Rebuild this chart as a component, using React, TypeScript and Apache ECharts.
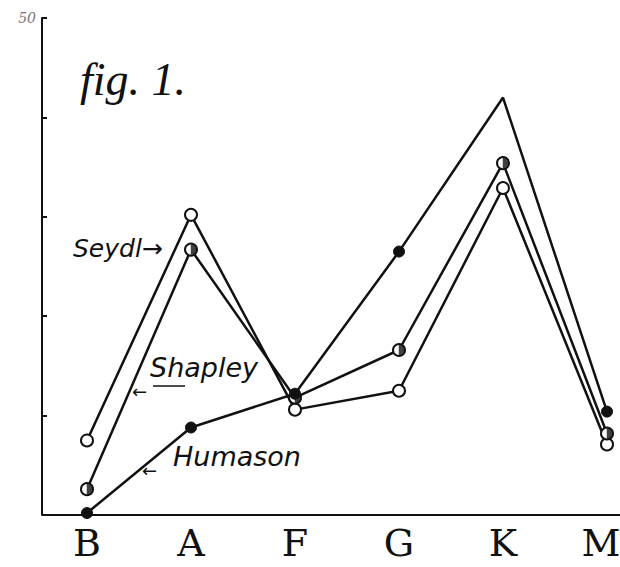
import React, { useEffect, useRef } from "react";
import * as echarts from "echarts";

const categories = ["B", "A", "F", "G", "K", "M"];
const seydl = [7.5, 30.2, 10.6, 12.5, 32.9, 7.1];
const shapley = [2.6, 26.7, 11.8, 16.6, 35.4, 8.2];
const humason = [0.2, 8.8, 12.2, 26.5, 42.0, 10.4];
const yTicks = [0, 10, 20, 30, 40, 50];
const shownYLabel = 50;

export default function App() {
  const ref = useRef<HTMLDivElement>(null);
  useEffect(() => {
    document.body.style.margin = "0";
    if (!ref.current) return;
    const chart = echarts.init(ref.current, null, { renderer: "svg" });
    const hand = "'DejaVu Sans', sans-serif";
    const lastIdx = categories.length - 1;
    chart.setOption({
      animation: false,
      backgroundColor: "#ffffff",
      grid: { left: 87, right: 13, top: 18, bottom: 52, outerBoundsMode: "none", containLabel: false },
      xAxis: {
        type: "category",
        data: categories.map((c, i) =>
          i === lastIdx ? { value: c, textStyle: { padding: [0, 12, 0, 0] } } : c
        ),
        boundaryGap: false,
        axisLine: { show: false },
        axisTick: { show: false },
        axisLabel: {
          color: "#111",
          fontFamily: "DejaVu Serif",
          fontSize: 38,
          margin: 9,
        },
      },
      yAxis: {
        type: "value",
        min: yTicks[0],
        max: yTicks[yTicks.length - 1],
        interval: 10,
        offset: 45,
        splitLine: { show: false },
        axisLine: { show: true, lineStyle: { color: "#111", width: 2 } },
        axisTick: { show: true, inside: true, length: 5, lineStyle: { color: "#111", width: 2 } },
        axisLabel: {
          formatter: (v: number) => (v === shownYLabel ? String(v) : ""),
          color: "#777",
          fontStyle: "italic",
          fontFamily: "DejaVu Serif",
          fontSize: 14,
          margin: 6,
        },
      },
      graphic: [
        { type: "line", shape: { x1: 42, y1: 515, x2: 620, y2: 515 }, style: { stroke: "#111", lineWidth: 2 } },
        { type: "text", x: 80, y: 56, style: { text: "fig. 1.", font: "italic 46px 'Liberation Serif', serif", fill: "#111" } },
        { type: "text", x: 73, y: 236, style: { text: "Seydl→", font: "italic 25px " + hand, fill: "#111" } },
        { type: "text", x: 150, y: 354, style: { text: "Shapley", font: "italic 27px " + hand, fill: "#111" } },
        { type: "line", shape: { x1: 153, y1: 386, x2: 185, y2: 386 }, style: { stroke: "#111", lineWidth: 1.5 } },
        { type: "text", x: 132, y: 382, style: { text: "←", font: "18px " + hand, fill: "#111" } },
        { type: "text", x: 173, y: 443, style: { text: "Humason", font: "italic 27px " + hand, fill: "#111" } },
        { type: "text", x: 142, y: 461, style: { text: "←", font: "18px " + hand, fill: "#111" } },
      ],
      series: [
        {
          name: "Seydl",
          type: "line",
          data: seydl,
          symbol: "circle",
          symbolSize: 12,
          lineStyle: { color: "#111", width: 2.5 },
          itemStyle: { color: "#fff", borderColor: "#111", borderWidth: 2 },
          z: 3,
        },
        {
          name: "Shapley",
          type: "line",
          data: shapley,
          symbol: "circle",
          symbolSize: 12,
          lineStyle: { color: "#111", width: 2.5 },
          itemStyle: { color: "#fff", borderColor: "#111", borderWidth: 2 },
          z: 3,
        },
        {
          name: "ShapleyHalf",
          type: "scatter",
          data: shapley,
          symbol: "path://M0,-1A1,1 0 0 1 0,1Z",
          symbolKeepAspect: true,
          symbolSize: 11,
          symbolOffset: [2.5, 0],
          itemStyle: { color: "#111" },
          z: 4,
          silent: true,
        },
        {
          name: "Humason",
          type: "line",
          data: humason.map((v, i) => (i === 4 ? { value: v, symbol: "none" } : v)),
          symbol: "circle",
          symbolSize: 11,
          lineStyle: { color: "#111", width: 2.5 },
          itemStyle: { color: "#111", borderColor: "#111", borderWidth: 1 },
          z: 3,
        },
      ],
    });
    return () => chart.dispose();
  }, []);
  return <div ref={ref} style={{ width: 620, height: 567 }} />;
}
